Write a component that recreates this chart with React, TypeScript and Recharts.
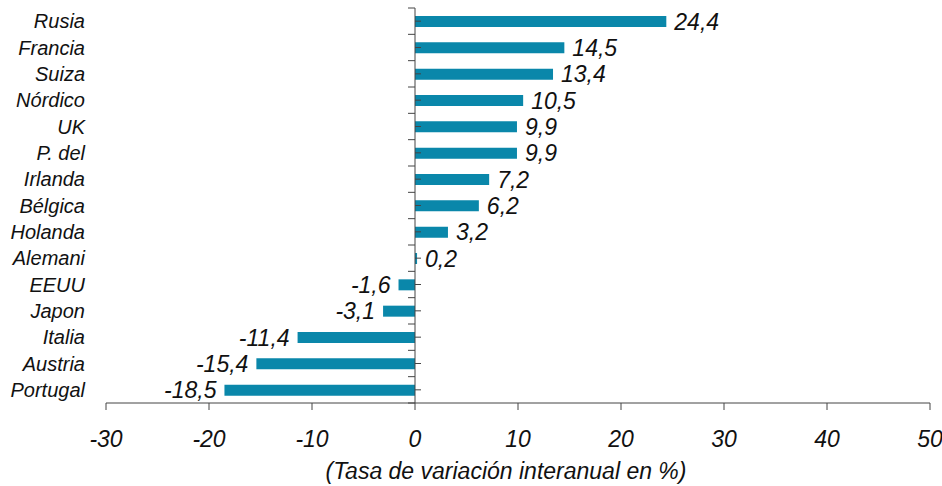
import React from 'react';
import { BarChart, Bar, XAxis, YAxis, ReferenceLine, LabelList, Label } from 'recharts';

const countries = ['Rusia', 'Francia', 'Suiza', 'Nórdico', 'UK', 'P. del', 'Irlanda', 'Bélgica', 'Holanda', 'Alemani', 'EEUU', 'Japon', 'Italia', 'Austria', 'Portugal'];
const variation = [24.4, 14.5, 13.4, 10.5, 9.9, 9.9, 7.2, 6.2, 3.2, 0.2, -1.6, -3.1, -11.4, -15.4, -18.5];
const xTicks = [-30, -20, -10, 0, 10, 20, 30, 40, 50];
const axisTitle = '(Tasa de variación interanual en %)';

const data = countries.map((name, i) => ({ name, value: variation[i] }));

const FONT = '"Liberation Sans", Arial, Helvetica, sans-serif';
const TEXT = '#111';
const AXIS = '#444';
const BAR = '#0a87aa';

// zero line with ticks between categories (left) and at category centres (right)
const ZeroAxis = (props: any) => {
  const { x1, y1, y2 } = props;
  const n = countries.length;
  const step = (y2 - y1) / n;
  const marks = [];
  for (let i = 0; i <= n; i++) {
    const y = y1 + i * step;
    marks.push(<line key={'b' + i} x1={x1 - 7} x2={x1} y1={y} y2={y} stroke={AXIS} strokeWidth={1} />);
    if (i < n) {
      const c = y + step / 2;
      marks.push(<line key={'c' + i} x1={x1} x2={x1 + 6} y1={c} y2={c} stroke={AXIS} strokeWidth={1} />);
    }
  }
  return (
    <g>
      <line x1={x1} x2={x1} y1={y1} y2={y2} stroke={AXIS} strokeWidth={1} />
      {marks}
    </g>
  );
};

const ValueLabel = (props: any) => {
  const { x, y, width, height, value } = props;
  const left = Math.min(x, x + width);
  const right = Math.max(x, x + width);
  const pos = value >= 0;
  return (
    <text
      x={pos ? right + 8 : left - 8}
      y={y + height / 2 + 8}
      textAnchor={pos ? 'start' : 'end'}
      fontSize={23}
      fontStyle="italic"
      fontFamily={FONT}
      fill={TEXT}
    >
      {Number(value).toFixed(1).replace('.', ',')}
    </text>
  );
};

const App: React.FC = () => {
  return (
    <div style={{ position: 'absolute', left: 0, top: 0, background: '#fff' }}>
      <BarChart
        width={942}
        height={486}
        data={data}
        layout="vertical"
        margin={{ top: 8, right: 12, left: 0, bottom: 0 }}
      >
        <XAxis
          type="number"
          domain={[-30, 50]}
          ticks={xTicks}
          interval={0}
          height={83}
          axisLine={{ stroke: AXIS }}
          tickLine={{ stroke: AXIS }}
          tickSize={7}
          tickMargin={21}
          tick={{ fontSize: 23, fontStyle: 'italic', fontFamily: FONT, fill: TEXT }}
        >
          <Label
            value={axisTitle}
            position="insideBottom"
            offset={7}
            dx={-12}
            fontSize={23}
            fontStyle="italic"
            fontFamily={FONT}
            fill={TEXT}
          />
        </XAxis>
        <YAxis
          type="category"
          dataKey="name"
          width={106}
          interval={0}
          axisLine={false}
          tickLine={false}
          tickSize={0}
          tickMargin={21}
          tick={{ fontSize: 20, fontStyle: 'italic', fontFamily: FONT, fill: TEXT }}
        />
        <Bar dataKey="value" fill={BAR} barSize={11} isAnimationActive={false}>
          <LabelList dataKey="value" content={ValueLabel} />
        </Bar>
        <ReferenceLine x={0} shape={ZeroAxis} />
      </BarChart>
    </div>
  );
};

export default App;
